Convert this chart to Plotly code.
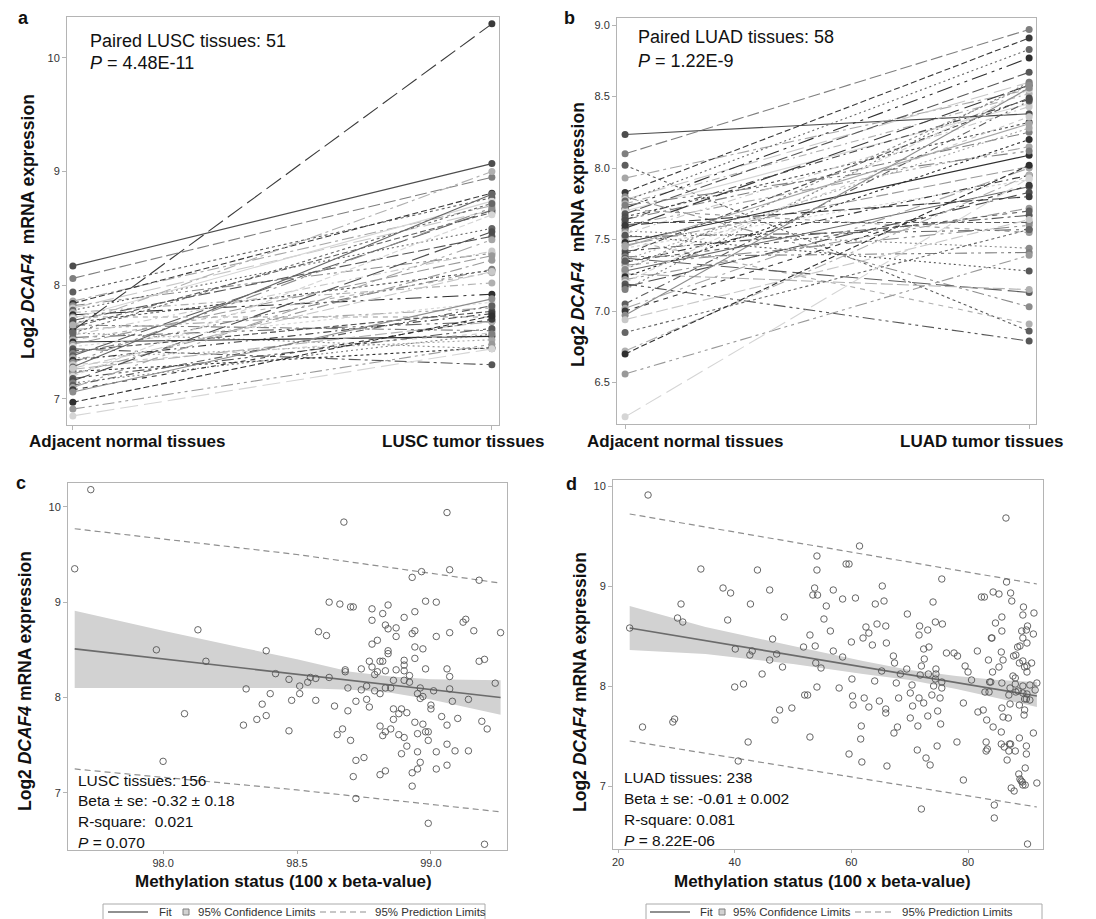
import plotly.graph_objects as go

W, H = 1096, 919
FONT = "Arial, Liberation Sans, sans-serif"

# ---------------- data ----------------
pair_categories = [0, 1]
lusc_labels = ["Adjacent normal tissues", "LUSC tumor tissues"]
luad_labels = ["Adjacent normal tissues", "LUAD tumor tissues"]

lusc_normal = [8.17, 8.06, 7.94, 7.86, 7.84, 7.82, 7.80, 7.78, 7.76, 7.74, 7.72, 7.71, 7.69,
               7.67, 7.65, 7.63, 7.61, 7.60, 7.58, 7.56, 7.54, 7.52, 7.50, 7.48, 7.46, 7.44,
               7.42, 7.40, 7.38, 7.36, 7.34, 7.32, 7.30, 7.28, 7.26, 7.24, 7.22, 7.20, 7.18,
               7.16, 7.14, 7.12, 7.10, 7.08, 7.06, 7.27, 7.58, 7.65, 6.97, 6.91, 6.85]
lusc_tumor = [9.07, 8.95, 8.77, 8.70, 8.81, 8.28, 8.66, 8.50, 8.02, 7.92, 7.72, 8.74, 8.43,
              8.13, 7.60, 8.64, 7.80, 10.30, 7.44, 8.30, 7.68, 8.11, 7.55, 8.26, 7.85, 7.30,
              7.77, 8.14, 8.66, 7.52, 7.75, 8.68, 7.58, 8.80, 7.68, 7.45, 8.22, 8.62, 7.62,
              8.47, 7.57, 7.82, 8.40, 7.70, 7.88, 8.12, 8.72, 9.00, 7.73, 7.48, 7.44]

luad_normal = [8.235, 8.10, 8.02, 7.93, 7.83, 7.80, 7.78, 7.77, 7.75, 7.72, 7.71, 7.70, 7.68,
               7.66, 7.64, 7.62, 7.60, 7.58, 7.56, 7.54, 7.52, 7.50, 7.48, 7.46, 7.44, 7.42,
               7.40, 7.38, 7.37, 7.36, 7.34, 7.32, 7.30, 7.28, 7.26, 7.24, 7.22, 7.20, 7.19,
               7.17, 7.15, 7.05, 7.02, 7.00, 6.97, 6.94, 6.85, 6.72, 6.70, 6.56, 6.26, 7.53,
               7.64, 7.74, 7.35, 7.45, 7.60, 7.29]
luad_tumor = [8.38, 8.97, 6.86, 8.55, 8.91, 7.03, 8.60, 8.83, 8.52, 8.77, 7.55, 8.45, 8.67,
              8.32, 8.25, 7.62, 8.15, 8.58, 7.44, 8.43, 7.57, 6.91, 8.09, 8.01, 7.92, 7.67,
              8.49, 7.41, 7.13, 8.28, 7.95, 7.60, 8.36, 7.87, 7.15, 8.20, 7.72, 8.55, 6.79,
              7.83, 8.60, 8.47, 8.00, 7.88, 8.56, 7.64, 7.57, 7.95, 8.02, 7.39, 7.93, 7.28,
              8.48, 8.12, 7.70, 8.31, 7.80, 8.58]

# (methylation, expression)
lusc_points = [
    (97.73, 10.18), (97.67, 9.35), (98.675, 9.84), (99.06, 9.94), (99.07, 9.34), (98.965, 9.32),
    (98.93, 9.26), (99.18, 9.23), (98.62, 9.00), (98.66, 8.98), (98.70, 8.95), (98.71, 8.95),
    (98.98, 9.01), (99.02, 9.00), (98.84, 8.97), (98.78, 8.93), (98.82, 8.88), (98.94, 8.90),
    (98.90, 8.84), (98.78, 8.81), (99.12, 8.79), (99.13, 8.82), (98.83, 8.76), (98.87, 8.73),
    (98.84, 8.72), (98.13, 8.71), (99.16, 8.70), (98.94, 8.70), (98.93, 8.67), (99.07, 8.68),
    (98.58, 8.69), (98.61, 8.65), (99.26, 8.68), (98.87, 8.64), (99.02, 8.64), (98.80, 8.60),
    (98.78, 8.56), (98.94, 8.53), (98.97, 8.51), (97.975, 8.50), (98.385, 8.49), (98.84, 8.49),
    (98.84, 8.46), (98.94, 8.41), (98.77, 8.38), (98.81, 8.38), (98.82, 8.38), (98.16, 8.38),
    (99.18, 8.38), (99.20, 8.40), (98.90, 8.39), (98.90, 8.34), (98.78, 8.32), (98.74, 8.30),
    (98.98, 8.30), (99.06, 8.30), (98.87, 8.29), (98.83, 8.28), (98.80, 8.27), (98.90, 8.28),
    (98.68, 8.29), (98.68, 8.27), (98.42, 8.25), (98.79, 8.24), (98.92, 8.23), (99.07, 8.22),
    (98.55, 8.21), (98.57, 8.20), (98.62, 8.21), (98.47, 8.19), (98.86, 8.18), (98.90, 8.18),
    (98.54, 8.16), (98.92, 8.16), (99.24, 8.15), (98.51, 8.12), (98.76, 8.12), (98.96, 8.10),
    (98.31, 8.09), (98.69, 8.10), (98.83, 8.10), (98.85, 8.10), (99.07, 8.09), (98.74, 8.08),
    (98.79, 8.07), (99.01, 8.07), (98.81, 8.04), (98.95, 8.04), (98.40, 8.04), (98.51, 8.04),
    (98.97, 8.01), (98.96, 7.99), (98.76, 7.98), (99.14, 7.98), (98.48, 7.97), (98.57, 7.97),
    (98.72, 7.96), (99.08, 7.96), (99.00, 7.92), (98.64, 7.91), (98.37, 7.93), (98.77, 7.90),
    (99.00, 7.88), (98.86, 7.88), (98.89, 7.88), (98.69, 7.86), (98.88, 7.83), (98.91, 7.84),
    (98.08, 7.83), (99.04, 7.80), (98.385, 7.81), (98.86, 7.77), (98.35, 7.77), (99.10, 7.78),
    (99.19, 7.75), (98.94, 7.74), (99.06, 7.71), (98.30, 7.71), (98.97, 7.72), (98.81, 7.70),
    (99.21, 7.67), (98.85, 7.67), (98.67, 7.67), (98.47, 7.65), (98.83, 7.64), (98.95, 7.62),
    (98.98, 7.64), (98.99, 7.64), (98.65, 7.61), (98.88, 7.61), (98.82, 7.60), (98.90, 7.58),
    (98.70, 7.55), (98.99, 7.55), (99.06, 7.51), (98.91, 7.49), (99.09, 7.44), (99.14, 7.44),
    (98.95, 7.43), (99.02, 7.43), (98.89, 7.41), (98.75, 7.37), (98.72, 7.34), (98.96, 7.32),
    (98.00, 7.33), (99.06, 7.29), (99.02, 7.25), (98.95, 7.25), (98.83, 7.23), (98.93, 7.21),
    (98.81, 7.19), (98.71, 7.17), (98.93, 7.07), (98.72, 6.94), (98.99, 6.68), (99.20, 6.46),
]

luad_points = [
    (25.15, 9.91), (86.5, 9.68), (61.4, 9.40), (54.1, 9.30), (59.1, 9.22), (59.6, 9.22),
    (34.2, 9.17), (43.9, 9.16), (54.1, 9.16), (75.5, 9.07), (86.6, 9.04), (65.3, 9.00),
    (46.0, 8.96), (53.7, 8.98), (56.9, 8.96), (38.0, 8.98), (39.3, 8.93), (84.3, 8.94),
    (87.3, 8.93), (85.3, 8.92), (53.4, 8.91), (54.2, 8.91), (82.3, 8.89), (82.8, 8.89),
    (58.5, 8.87), (60.7, 8.88), (65.6, 8.85), (64.1, 8.82), (74.0, 8.84), (87.5, 8.85),
    (30.8, 8.82), (42.7, 8.82), (55.7, 8.80), (89.5, 8.79), (69.6, 8.72), (91.3, 8.73),
    (89.4, 8.71), (48.5, 8.69), (85.8, 8.69), (30.2, 8.68), (31.1, 8.64), (55.3, 8.67),
    (38.8, 8.66), (90.2, 8.60), (74.4, 8.64), (71.7, 8.60), (75.6, 8.62), (64.4, 8.62),
    (65.9, 8.60), (62.5, 8.59), (84.7, 8.63), (90.0, 8.56), (89.2, 8.55), (85.8, 8.55),
    (73.1, 8.56), (56.4, 8.55), (52.9, 8.51), (71.6, 8.51), (63.0, 8.53), (84.0, 8.48),
    (84.1, 8.48), (46.5, 8.47), (62.0, 8.48), (91.2, 8.52), (89.4, 8.48), (60.0, 8.44),
    (66.0, 8.43), (90.1, 8.43), (63.6, 8.41), (88.9, 8.40), (88.5, 8.39), (51.8, 8.39),
    (53.8, 8.40), (72.4, 8.37), (73.3, 8.39), (85.7, 8.34), (81.6, 8.35), (40.1, 8.37),
    (43.0, 8.35), (56.9, 8.35), (76.3, 8.33), (77.6, 8.33), (78.2, 8.30), (67.2, 8.30),
    (47.2, 8.32), (42.6, 8.31), (58.5, 8.29), (87.8, 8.30), (88.2, 8.31), (72.5, 8.27),
    (83.5, 8.26), (86.0, 8.26), (89.4, 8.25), (46.0, 8.26), (90.9, 8.23), (53.9, 8.23),
    (67.4, 8.23), (88.8, 8.23), (79.5, 8.20), (85.3, 8.19), (89.7, 8.19), (90.1, 8.20),
    (72.0, 8.20), (48.2, 8.19), (54.8, 8.18), (90.1, 8.14), (74.5, 8.17), (69.5, 8.17),
    (80.0, 8.14), (84.2, 8.14), (65.2, 8.15), (74.5, 8.12), (68.4, 8.12), (71.8, 8.11),
    (73.2, 8.12), (44.7, 8.12), (87.7, 8.10), (88.1, 8.08), (74.4, 8.07), (60.1, 8.07),
    (80.6, 8.06), (64.0, 8.05), (75.5, 8.04), (83.7, 8.04), (83.9, 8.04), (85.8, 8.03),
    (91.8, 8.03), (67.7, 8.03), (70.4, 8.01), (41.5, 8.02), (40.0, 7.99), (54.1, 7.99),
    (74.1, 8.00), (88.1, 8.02), (89.4, 8.00), (90.6, 8.01), (75.5, 7.98), (57.9, 7.98),
    (87.2, 7.98), (91.5, 7.96), (82.9, 7.94), (83.6, 7.94), (88.2, 7.94), (88.6, 7.95),
    (89.4, 7.93), (90.1, 7.92), (70.1, 7.93), (87.0, 7.91), (73.8, 7.91), (52.0, 7.91),
    (52.5, 7.91), (60.2, 7.90), (68.1, 7.88), (71.6, 7.88), (64.8, 7.85), (75.2, 7.88),
    (90.0, 7.87), (89.7, 7.87), (90.6, 7.86), (62.2, 7.88), (79.2, 7.83), (87.2, 7.82),
    (72.4, 7.83), (88.8, 7.81), (70.5, 7.80), (60.3, 7.81), (63.0, 7.79), (49.8, 7.78),
    (65.9, 7.77), (81.7, 7.74), (82.6, 7.76), (74.8, 7.75), (47.7, 7.76), (89.7, 7.76),
    (85.8, 7.78), (89.6, 7.71), (65.9, 7.73), (86.0, 7.69), (86.9, 7.68), (73.1, 7.70),
    (70.1, 7.68), (46.9, 7.66), (83.2, 7.66), (29.7, 7.67), (29.4, 7.64), (61.7, 7.60),
    (71.4, 7.60), (67.9, 7.59), (75.3, 7.62), (84.3, 7.59), (24.2, 7.59), (85.7, 7.54),
    (67.3, 7.53), (91.2, 7.53), (88.8, 7.48), (52.9, 7.49), (61.6, 7.47), (78.1, 7.44),
    (83.1, 7.44), (42.3, 7.44), (85.7, 7.42), (87.1, 7.42), (87.3, 7.42), (86.2, 7.39),
    (90.0, 7.40), (74.7, 7.40), (83.3, 7.37), (83.1, 7.35), (87.0, 7.35), (88.1, 7.35),
    (71.3, 7.36), (90.0, 7.32), (59.6, 7.32), (72.8, 7.28), (86.7, 7.26), (73.5, 7.21),
    (40.6, 7.25), (61.8, 7.24), (66.1, 7.20), (89.8, 7.18), (88.7, 7.12), (88.9, 7.07),
    (89.3, 7.04), (89.1, 7.05), (79.2, 7.06), (89.8, 7.01), (89.4, 7.01), (91.8, 7.03),
    (87.4, 6.98), (87.9, 6.95), (72.0, 6.77), (84.5, 6.81), (84.5, 6.68), (90.2, 6.42),
    (22.0, 8.58), (37.4, 6.86),
]

lusc_fit_x = [97.67, 99.26]
lusc_fit_y = [8.51, 8.00]
lusc_ci_x = [97.67, 98.0, 98.3, 98.5, 98.7, 98.85, 99.0, 99.15, 99.26]
lusc_ci_hi = [8.91, 8.70, 8.52, 8.40, 8.27, 8.22, 8.19, 8.18, 8.18]
lusc_ci_lo = [8.10, 8.10, 8.10, 8.10, 8.08, 8.05, 7.98, 7.89, 7.82]
lusc_pi_x = [97.67, 98.5, 99.26]
lusc_pi_hi = [9.77, 9.50, 9.20]
lusc_pi_lo = [7.25, 7.03, 6.80]

luad_fit_x = [22.0, 91.8]
luad_fit_y = [8.58, 7.90]
luad_ci_x = [22, 35, 50, 62, 70, 78, 85, 91.8]
luad_ci_hi = [8.80, 8.59, 8.40, 8.25, 8.16, 8.10, 8.06, 8.04]
luad_ci_lo = [8.36, 8.32, 8.22, 8.12, 8.06, 7.97, 7.88, 7.79]
luad_pi_x = [22.0, 57.0, 91.8]
luad_pi_hi = [9.72, 9.37, 9.02]
luad_pi_lo = [7.45, 7.12, 6.79]

# ---------------- styling ----------------
gray_cycle = ['#4d4d4d', '#7f7f7f', '#5e5e5e', '#a6a6a6', '#3a3a3a', '#8c8c8c', '#c8c8c8',
              '#666666', '#b0b0b0', '#2f2f2f', '#999999', '#d5d5d5', '#575757']
dash_cycle = ['solid', '12px,4px', '3px,3px', '12px,4px,3px,4px', '6px,3px',
              '12px,4px,3px,4px,3px,4px', '18px,6px', '2px,3px', '8px,4px,2px,4px',
              '16px,5px,3px,5px,3px,5px', '5px,5px']
AX_COLOR = '#b4b4b4'
TICK_FONT = dict(family=FONT, size=11, color='#333333')


def px(x):
    return x / W


def py(y):
    return 1 - y / H


fig = go.Figure()

# paired panels
for axn, normal, tumor in [('', lusc_normal, lusc_tumor), ('2', luad_normal, luad_tumor)]:
    for i, (a, b) in enumerate(zip(normal, tumor)):
        col = gray_cycle[i % len(gray_cycle)]
        fig.add_trace(go.Scatter(
            x=pair_categories, y=[a, b], mode='lines+markers',
            line=dict(color=col, width=1.1, dash=dash_cycle[i % len(dash_cycle)]),
            marker=dict(color=col, size=7),
            xaxis='x' + axn, yaxis='y' + axn, showlegend=False, hoverinfo='skip'))

# regression panels
for axn, pts, fx, fy, cx, chi, clo, pxs, phi, plo in [
        ('3', lusc_points, lusc_fit_x, lusc_fit_y, lusc_ci_x, lusc_ci_hi, lusc_ci_lo,
         lusc_pi_x, lusc_pi_hi, lusc_pi_lo),
        ('4', luad_points, luad_fit_x, luad_fit_y, luad_ci_x, luad_ci_hi, luad_ci_lo,
         luad_pi_x, luad_pi_hi, luad_pi_lo)]:
    xa, ya = 'x' + axn, 'y' + axn
    fig.add_trace(go.Scatter(x=cx + cx[::-1], y=chi + clo[::-1], fill='toself',
                             fillcolor='#d2d2d2', line=dict(width=0), mode='lines',
                             xaxis=xa, yaxis=ya, showlegend=False, hoverinfo='skip'))
    fig.add_trace(go.Scatter(x=fx, y=fy, mode='lines', line=dict(color='#6b6b6b', width=1.6),
                             xaxis=xa, yaxis=ya, showlegend=False))
    for pv in (phi, plo):
        fig.add_trace(go.Scatter(x=pxs, y=pv, mode='lines',
                                 line=dict(color='#8f8f8f', width=1.2, dash='6px,4px'),
                                 xaxis=xa, yaxis=ya, showlegend=False))
    fig.add_trace(go.Scatter(x=[p[0] for p in pts], y=[p[1] for p in pts], mode='markers',
                             marker=dict(symbol='circle-open', size=6.5,
                                         color='#555555', line=dict(width=0.9)),
                             xaxis=xa, yaxis=ya, showlegend=False))


def axis(domain, rng, **kw):
    d = dict(domain=domain, range=rng, showline=True, linecolor=AX_COLOR, linewidth=1,
             mirror=True, ticks='outside', ticklen=4, tickcolor=AX_COLOR,
             showgrid=False, zeroline=False, tickfont=TICK_FONT)
    d.update(kw)
    return d


fig.update_layout(
    width=W, height=H, margin=dict(l=0, r=0, t=0, b=0),
    paper_bgcolor='white', plot_bgcolor='white', showlegend=False,
    xaxis=axis([px(67), px(499)], [-0.014, 1.017], tickvals=pair_categories,
               showticklabels=False, anchor='y'),
    yaxis=axis([py(425), py(17)], [6.77, 10.36], tickvals=[7, 8, 9, 10], anchor='x'),
    xaxis2=axis([px(617), px(1036)], [-0.02, 1.017], tickvals=pair_categories,
                showticklabels=False, anchor='y2'),
    yaxis2=axis([py(424), py(18)], [6.21, 9.05], tickvals=[6.5, 7.0, 7.5, 8.0, 8.5, 9.0],
                tickformat='.1f', anchor='x2'),
    xaxis3=axis([px(68), px(507)], [97.645, 99.284], tickvals=[98.0, 98.5, 99.0],
                tickformat='.1f', anchor='y3', ticklen=3),
    yaxis3=axis([py(850), py(483)], [6.40, 10.25], tickvals=[7, 8, 9, 10], anchor='x3'),
    xaxis4=axis([px(613), px(1043)], [19.14, 92.85], tickvals=[20, 40, 60, 80], anchor='y4',
                ticklen=3),
    yaxis4=axis([py(849), py(480)], [6.37, 10.06], tickvals=[7, 8, 9, 10], anchor='x4'),
)

anns = []


def ann(text, x, y, size, xanchor='left', angle=0, color='#111111'):
    anns.append(dict(xref='paper', yref='paper', x=px(x), y=py(y), text=text,
                     showarrow=False, xanchor=xanchor, yanchor='middle', textangle=angle,
                     font=dict(family=FONT, size=size, color=color)))


# panel letters
ann('<b>a</b>', 16, 18, 18)
ann('<b>b</b>', 562, 18, 18)
ann('<b>c</b>', 14, 483, 18)
ann('<b>d</b>', 564, 484, 18)

# y titles
ytitle = '<b>Log2 <i>DCAF4</i>  mRNA expression</b>'
ytitle2 = '<b>Log2 <i>DCAF4</i> mRNA expression</b>'
ann(ytitle, 28, 227, 17.5, 'center', -90)
ann(ytitle, 578, 235, 17.5, 'center', -90)
ann(ytitle2, 25, 681, 17.5, 'center', -90)
ann(ytitle2, 580, 682, 17.5, 'center', -90)

# category labels
ann('<b>%s</b>' % lusc_labels[0], 127, 441, 17, 'center')
ann('<b>%s</b>' % lusc_labels[1], 463, 441, 17, 'center')
ann('<b>%s</b>' % luad_labels[0], 685, 441, 17, 'center')
ann('<b>%s</b>' % luad_labels[1], 981, 441, 17, 'center')

# x titles
ann('<b>Methylation status (100 x beta-value)</b>', 283, 881, 17, 'center')
ann('<b>Methylation status (100 x beta-value)</b>', 822, 881, 17, 'center')

# statistics text
ann('Paired LUSC tissues: 51', 88, 41, 18)
ann('<i>P</i> = 4.48E-11', 88, 63, 18)
ann('Paired LUAD tissues: 58', 636, 37, 18)
ann('<i>P</i> = 1.22E-9', 636, 61, 18)

for i, t in enumerate(['LUSC tissues: 156', 'Beta ± se: -0.32 ± 0.18', 'R-square:  0.021',
                       '<i>P</i> = 0.070']):
    ann(t, 76, 780 + 20.8 * i, 15.5)
for i, t in enumerate(['LUAD tissues: 238', 'Beta ± se: -0.01 ± 0.002', 'R-square: 0.081',
                       '<i>P</i> = 8.22E-06']):
    ann(t, 622, 777 + 21 * i, 15.5)

# manual legends
shapes = []
LEG_Y = 912
for (bx0, bx1, lx0, lx1, fitx, sqx, cix, dx0, dx1, pix) in [
        (103, 485, 108, 148, 157, 183, 196, 320, 367, 373),
        (646, 1042, 650, 690, 698, 719, 731, 855, 893, 900)]:
    shapes.append(dict(type='rect', xref='paper', yref='paper', x0=px(bx0), x1=px(bx1),
                       y0=py(904), y1=py(925), line=dict(color='#aaaaaa', width=1)))
    shapes.append(dict(type='line', xref='paper', yref='paper', x0=px(lx0), x1=px(lx1),
                       y0=py(LEG_Y), y1=py(LEG_Y), line=dict(color='#6b6b6b', width=1.6)))
    shapes.append(dict(type='rect', xref='paper', yref='paper', x0=px(sqx), x1=px(sqx + 6),
                       y0=py(LEG_Y + 3), y1=py(LEG_Y - 3), fillcolor='#d2d2d2',
                       line=dict(color='#808080', width=1)))
    shapes.append(dict(type='line', xref='paper', yref='paper', x0=px(dx0), x1=px(dx1),
                       y0=py(LEG_Y), y1=py(LEG_Y),
                       line=dict(color='#8f8f8f', width=1.2, dash='6px,4px')))
    ann('Fit', fitx, LEG_Y, 11.5, color='#333333')
    ann('95% Confidence Limits', cix, LEG_Y, 11.5, color='#333333')
    ann('95% Prediction Limits', pix, LEG_Y, 11.5, color='#333333')

fig.update_layout(annotations=anns, shapes=shapes)

fig.write_html("out.html", config={'displayModeBar': False},
               post_script="document.body.style.margin='0';")
